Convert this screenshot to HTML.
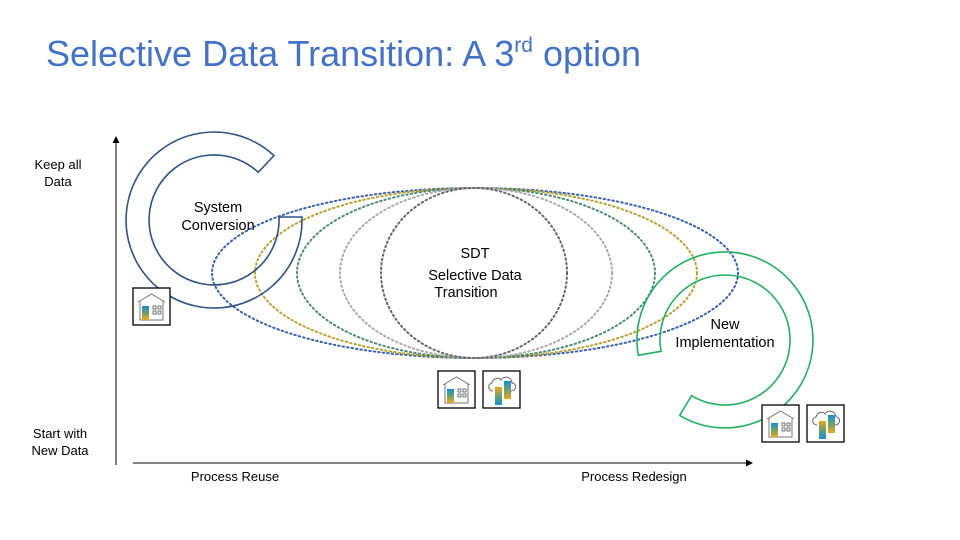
<!DOCTYPE html>
<html><head><meta charset="utf-8"><style>
body{margin:0;background:#fff;}
svg{display:block;font-family:"Liberation Sans",Arial,sans-serif;}
</style></head><body>
<svg width="960" height="540" viewBox="0 0 960 540" xmlns="http://www.w3.org/2000/svg">
<defs>
<linearGradient id="g1" x1="0" y1="0" x2="0" y2="1"><stop offset="0" stop-color="#1a8fd6"/><stop offset="0.5" stop-color="#6aa06a"/><stop offset="1" stop-color="#f0a81c"/></linearGradient>
<linearGradient id="g2" x1="0" y1="0" x2="0" y2="1"><stop offset="0" stop-color="#f0a81c"/><stop offset="0.5" stop-color="#6aa06a"/><stop offset="1" stop-color="#1a8fd6"/></linearGradient>
<g id="house">
<rect x="0" y="0" width="37" height="37" fill="#fff" stroke="#000" stroke-width="1.3"/>
<path d="M5 14 L18.5 6 L32 14" fill="none" stroke="#777" stroke-width="1"/>
<path d="M7 13 V32 H30 V13" fill="none" stroke="#777" stroke-width="1"/>
<rect x="9" y="18" width="7" height="14" fill="url(#g1)"/>
<g fill="none" stroke="#666" stroke-width="0.9"><rect x="20" y="18" width="3" height="3"/><rect x="25" y="18" width="3" height="3"/><rect x="20" y="23" width="3" height="3"/><rect x="25" y="23" width="3" height="3"/></g>
</g>
<g id="cloud">
<rect x="0" y="0" width="37" height="37" fill="#fff" stroke="#000" stroke-width="1.3"/>
<path d="M10 20 C5 20 4 13 9 12 C10 7 16 6 18 9 C21 4 29 6 29 12 C34 12 34 20 28 20" fill="none" stroke="#666" stroke-width="1"/>
<rect x="12" y="16" width="7" height="18" fill="url(#g2)"/>
<rect x="21" y="10" width="7" height="18" fill="url(#g1)"/>
</g>
</defs>
<text x="46" y="66" font-size="36" fill="#4472c4">Selective Data Transition: A 3<tspan font-size="21" dy="-14">rd</tspan><tspan dy="14"> option</tspan></text>

<line x1="116" y1="465" x2="116" y2="142" stroke="#000" stroke-width="1"/>
<path d="M112.5 143 L116 136 L119.5 143 Z" fill="#000"/>
<line x1="133" y1="463" x2="747" y2="463" stroke="#000" stroke-width="1"/>
<path d="M746 459.5 L753 463 L746 466.5 Z" fill="#000"/>

<g fill="none" stroke-width="2" stroke-dasharray="1.5 3" stroke-linecap="round">
<ellipse cx="475" cy="273" rx="263" ry="85" stroke="#3a62b0"/>
<ellipse cx="476" cy="273" rx="221" ry="85" stroke="#b8a232"/>
<ellipse cx="476" cy="273" rx="179" ry="85" stroke="#4f8a7a"/>
<ellipse cx="476" cy="273" rx="136" ry="85" stroke="#aaaaaa"/>
<ellipse cx="474" cy="273" rx="93" ry="85" stroke="#666666"/>
</g>

<path d="M302 217 A88 88 0 1 1 274 155.6 L258.3 172.3 A65 65 0 1 0 279 217 Z" fill="none" stroke="#2f5383" stroke-width="1.6"/>
<path d="M638.3 355.3 A88 88 0 1 1 679.7 415.4 L691.5 395.7 A65 65 0 1 0 661 351.3 Z" fill="none" stroke="#22b060" stroke-width="1.6"/>

<g font-size="14.5" fill="#000" text-anchor="middle">
<text x="218" y="212">System</text>
<text x="218" y="230">Conversion</text>
<text x="475" y="258">SDT</text>
<text x="475" y="280">Selective Data</text>
<text x="466" y="297">Transition</text>
<text x="725" y="329">New</text>
<text x="725" y="347">Implementation</text>
</g>
<g font-size="13" fill="#000" text-anchor="middle">
<text x="58" y="169">Keep all</text>
<text x="58" y="186">Data</text>
<text x="60" y="438">Start with</text>
<text x="60" y="455">New Data</text>
<text x="235" y="481">Process Reuse</text>
<text x="634" y="481">Process Redesign</text>
</g>

<use href="#house" x="133" y="288"/>
<use href="#house" x="438" y="371"/>
<use href="#cloud" x="483" y="371"/>
<use href="#house" x="762" y="405"/>
<use href="#cloud" x="807" y="405"/>
</svg>
</body></html>
